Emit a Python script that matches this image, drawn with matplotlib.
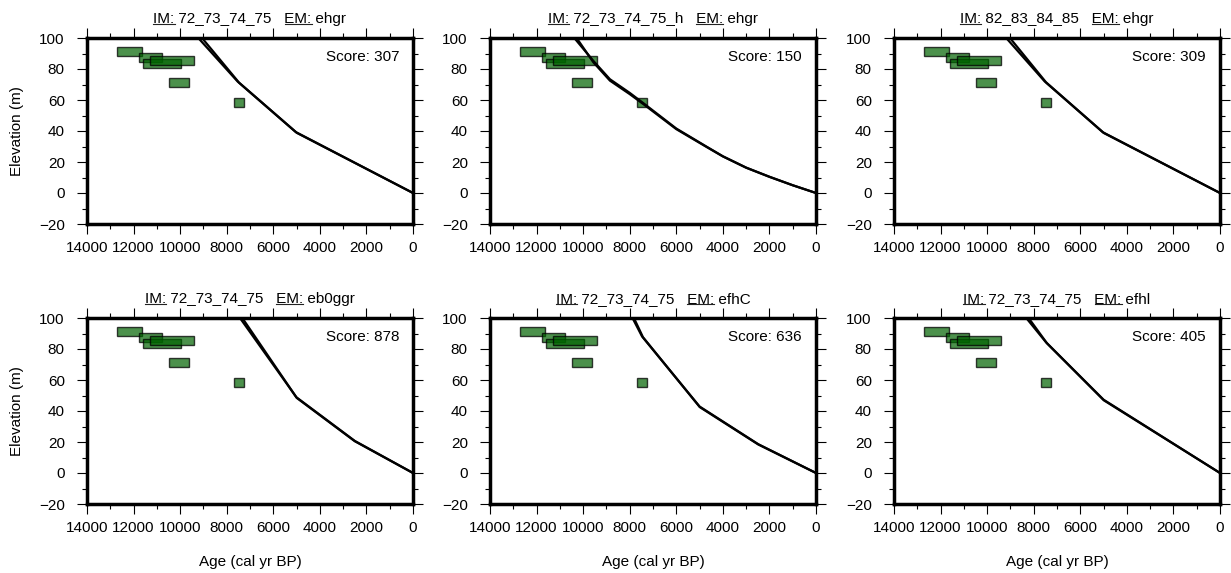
import matplotlib
matplotlib.use('Agg')
import matplotlib.pyplot as plt
from matplotlib.patches import Rectangle
from matplotlib.lines import Line2D
from matplotlib.ticker import MultipleLocator

plt.rcParams['font.family'] = ['Liberation Sans', 'DejaVu Sans']
plt.rcParams['font.size'] = 11

# panel texts
im_names = ['72_73_74_75', '72_73_74_75_h', '82_83_84_85',
            '72_73_74_75', '72_73_74_75', '72_73_74_75']
em_names = ['ehgr', 'ehgr', 'ehgr', 'eb0ggr', 'efhC', 'efhl']
scores = [307, 150, 309, 878, 636, 405]

# sea-level indicator boxes (same in every panel)
box_age_min = [11650, 10770, 9980, 9420, 9620, 7270]
box_age_max = [12700, 11770, 11580, 11280, 10470, 7700]
box_elev_min = [88.2, 84.5, 80.8, 82.4, 68.2, 55.3]
box_elev_max = [94.4, 90.5, 86.6, 88.4, 74.4, 61.5]

# model curves, two members per panel (upper / lower edge of the band)
curve_age_a = [
    [9220, 7530, 5030, 0],
    [10380, 9560, 8850, 8000, 7400, 6000, 4700, 4000, 3000, 2000, 1000, 0],
    [9180, 7530, 5030, 0],
    [7430, 5010, 2500, 0],
    [7880, 7470, 5000, 2480, 0],
    [8320, 7470, 5000, 0],
]
curve_elev_a = [
    [100, 71.9, 39.3, 0],
    [100, 85.2, 73.4, 64.6, 57.8, 41.6, 29.9, 23.7, 16.4, 10.5, 5.0, 0],
    [100, 72.0, 39.2, 0],
    [100, 48.9, 20.7, 0],
    [100, 88.1, 42.9, 18.6, 0],
    [100, 84.3, 47.3, 0],
]
curve_age_b = [
    [9060, 7470, 4990, 0],
    [10280, 9560, 8850, 8000, 7400, 6000, 4700, 4000, 3000, 2000, 1000, 0],
    [9020, 7470, 4990, 0],
    [7330, 4990, 2500, 0],
    [7820, 7430, 4990, 2480, 0],
    [8220, 7430, 4990, 0],
]
curve_elev_b = [
    [100, 71.2, 38.8, 0],
    [100, 84.3, 72.5, 63.8, 57.2, 41.2, 29.7, 23.6, 16.3, 10.4, 5.0, 0],
    [100, 71.4, 38.7, 0],
    [100, 48.4, 20.5, 0],
    [100, 87.6, 42.5, 18.4, 0],
    [100, 83.7, 46.9, 0],
]

W, H = 1231, 573
fig = plt.figure(figsize=(W / 100, H / 100), dpi=100)

col_left = [87, 490, 894]
row_top = [38, 318]
ax_w, ax_h = 326, 186

axes = []
titles = []
for i in range(6):
    r, c = divmod(i, 3)
    ax = fig.add_axes([col_left[c] / W, 1 - (row_top[r] + ax_h) / H, ax_w / W, ax_h / H])
    axes.append(ax)

    for j in range(len(box_age_min)):
        ax.add_patch(Rectangle((box_age_min[j], box_elev_min[j]),
                               box_age_max[j] - box_age_min[j],
                               box_elev_max[j] - box_elev_min[j],
                               facecolor=(0, 0.39, 0, 0.7), edgecolor=(0, 0, 0, 0.75),
                               linewidth=1.0, zorder=2))

    ax.plot(curve_age_a[i], curve_elev_a[i], color='black', lw=1.6, zorder=3)
    ax.plot(curve_age_b[i], curve_elev_b[i], color='black', lw=1.6, zorder=3)

    ax.set_xlim(14000, 0)
    ax.set_ylim(-20, 100)
    ax.xaxis.set_major_locator(MultipleLocator(2000))
    ax.xaxis.set_minor_locator(MultipleLocator(1000))
    ax.yaxis.set_major_locator(MultipleLocator(20))
    ax.yaxis.set_minor_locator(MultipleLocator(10))
    ax.tick_params(which='both', direction='out', top=True, right=True,
                   labeltop=False, labelright=False, width=0.8, labelsize=11)
    ax.tick_params(which='major', length=7)
    ax.tick_params(which='minor', length=3.6)
    ax.tick_params(axis='x', pad=5)
    ax.tick_params(axis='y', pad=9)
    for sp in ax.spines.values():
        sp.set_linewidth(2.5)

    ax.annotate(f'Score: {scores[i]}', xy=(1, 1), xycoords='axes fraction',
                xytext=(-10, -13.7), textcoords='offset points',
                ha='right', va='center', fontsize=11)

    t = ax.annotate(f'IM: {im_names[i]}   EM: {em_names[i]}', xy=(0.5, 1),
                    xycoords='axes fraction', xytext=(0, 11), textcoords='offset points',
                    ha='center', va='baseline', fontsize=11)
    titles.append(t)

    if c == 0:
        ax.set_ylabel('Elevation (m)', fontsize=11, va='center')
        ax.yaxis.set_label_coords(-0.215, 0.5)
    if r == 1:
        ax.set_xlabel('Age (cal yr BP)', fontsize=11, va='center')
        ax.xaxis.set_label_coords(0.5, -0.31)

# underline the "IM:" and "EM:" parts of the titles
fig.canvas.draw()
renderer = fig.canvas.get_renderer()
for i, t in enumerate(titles):
    fp = t.get_fontproperties()

    def width(s):
        return renderer.get_text_width_height_descent(s, fp, ismath=False)[0]

    bb = t.get_window_extent(renderer)
    y_base = axes[i].transAxes.transform((0.5, 1))[1] + 11 * fig.dpi / 72
    y_line = y_base - 1.5
    prefix = f'IM: {im_names[i]}   '
    segs = [(bb.x0, bb.x0 + width('IM:')),
            (bb.x0 + width(prefix + 'EM:') - width('EM:'), bb.x0 + width(prefix + 'EM:'))]
    for x0, x1 in segs:
        fig.add_artist(Line2D([x0 / W, x1 / W], [y_line / H, y_line / H],
                              transform=fig.transFigure, color='#222222', lw=0.8))

fig.savefig('out.png', dpi=100)
